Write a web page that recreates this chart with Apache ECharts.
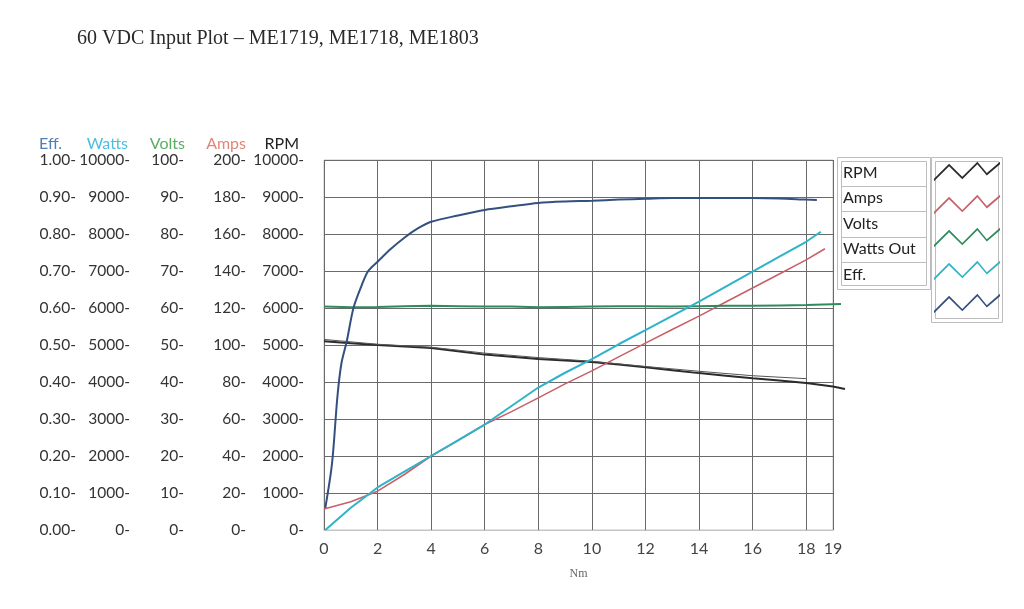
<!DOCTYPE html>
<html>
<head>
<meta charset="utf-8">
<script src="https://cdn.jsdelivr.net/npm/echarts@6/dist/echarts.min.js"></script>
<style>
html,body{margin:0;padding:0;background:#fff;}
#chart{width:1024px;height:609px;}
</style>
</head>
<body>
<div id="chart"></div>
<script>
// ---- Data (torque Nm on x) ----
const titleText = '60 VDC Input Plot \u2013 ME1719, ME1718, ME1803';
const xTickLabels = [0, 2, 4, 6, 8, 10, 12, 14, 16, 18, 19];
const legendNames = ['RPM', 'Amps', 'Volts', 'Watts Out', 'Eff.'];

const rpmX = [0, 1, 2, 3, 4, 5, 6, 7, 8, 9, 10, 11, 12, 13, 14, 15, 16, 17, 18, 19, 19.45];
const rpmY = [5100, 5050, 5000, 4960, 4920, 4830, 4740, 4680, 4620, 4580, 4540, 4470, 4400, 4320, 4240, 4170, 4100, 4040, 3970, 3880, 3810];

const rpmRefX = [0, 2, 4, 6, 8, 10, 12, 14, 16, 18];
const rpmRefY = [5150, 5020, 4940, 4780, 4660, 4560, 4420, 4290, 4170, 4090];

const ampsX = [0, 1, 2, 3, 4, 5, 6, 7, 8, 9, 10, 11, 12, 13, 14, 15, 16, 17, 18, 18.7];
const ampsY = [11.4, 15.3, 21, 30, 40, 48.4, 57, 64, 71.4, 79, 86, 93.6, 101, 108.4, 115.6, 123.2, 130.8, 138.4, 146, 152];

const voltsX = [0, 1, 2, 3, 4, 5, 6, 7, 8, 9, 10, 11, 12, 13, 14, 15, 16, 17, 18, 19.3];
const voltsY = [60.4, 60.2, 60.3, 60.5, 60.6, 60.5, 60.4, 60.4, 60.2, 60.3, 60.4, 60.5, 60.5, 60.4, 60.5, 60.6, 60.6, 60.7, 60.8, 61.1];

const wattsX = [0.05, 1, 2, 3, 4, 5, 6, 7, 8, 9, 10, 11, 12, 13, 14, 15, 16, 17, 18, 18.55];
const wattsY = [0, 600, 1150, 1580, 2000, 2420, 2850, 3350, 3850, 4250, 4620, 5020, 5400, 5790, 6170, 6580, 6980, 7390, 7790, 8060];

const effX = [0.05, 0.3, 0.5, 0.65, 0.85, 1.1, 1.4, 1.65, 2, 2.5, 3, 3.5, 4, 5, 6, 7, 8, 9, 10, 11, 12, 13, 14, 15, 16, 17, 18, 18.4];
const effY = [0.06, 0.18, 0.36, 0.45, 0.51, 0.60, 0.66, 0.70, 0.725, 0.76, 0.79, 0.815, 0.833, 0.85, 0.865, 0.875, 0.884, 0.888, 0.89, 0.893, 0.895, 0.897, 0.897, 0.897, 0.897, 0.896, 0.893, 0.892];

function pairs(xs, ys) { return xs.map((x, i) => [x, ys[i]]); }

const colors = {
  rpm: '#2b2b2b', amps: '#c8606a', volts: '#2f8a5c', watts: '#2fb3c9', eff: '#34507e'
};

const zig = 'path://M0,20 L16,4 L30,18 L46,2 L56,14 L70,2 L70,4.6 L56,16.6 L46,4.6 L30,20.6 L16,6.6 L0,22.6 Z';

const labelFont = 'Lato';
// axis ranges: [name, max, interval, offset, nameColor, namePadRight, formatter]
const axisDefs = [
  ['RPM', 10000, 1000, 0, '#222', 25, v => String(v)],
  ['Amps', 200, 20, 58, '#e0857a', 20, v => String(v)],
  ['Volts', 100, 10, 120, '#5aae63', 19, v => String(v)],
  ['Watts', 10000, 1000, 174, '#4cbde0', 22, v => String(v)],
  ['Eff.', 1, 0.1, 228, '#4f80b5', 34, v => v.toFixed(2)]
];

const visibleY = axisDefs.map((d, i) => ({
  gridIndex: 0, type: 'value', position: 'left', min: 0, max: d[1], interval: d[2], offset: d[3],
  name: d[0], nameLocation: 'end', nameGap: 6,
  nameTextStyle: { color: d[4], fontFamily: labelFont, fontSize: 16, align: 'right', padding: [0, d[5], 0, 0] },
  axisLine: { show: false }, axisTick: { show: false },
  axisLabel: { color: '#333', fontFamily: labelFont, fontSize: 15.5, margin: 20, formatter: v => d[6](v) + '-' },
  splitLine: { show: i === 0, lineStyle: { color: '#6a6a6a', width: 1 } }
}));
// hidden twins on the drawing grid (same ranges), so lines may run past the frame edge
const hiddenY = axisDefs.map(d => ({ gridIndex: 1, type: 'value', min: 0, max: d[1], show: false }));

const chart = echarts.init(document.getElementById('chart'));
chart.setOption({
  backgroundColor: '#ffffff',
  animation: false,
  title: {
    text: titleText, left: 77, top: 29, padding: 0,
    textStyle: { fontFamily: 'Liberation Serif', fontSize: 20, fontWeight: 'normal', color: '#2a2a2a' }
  },
  grid: [
    { left: 324, right: 191, top: 160, bottom: 79, show: true, borderColor: '#c4c4c4', borderWidth: 1 },
    { left: 324, right: 175, top: 160, bottom: 79, show: false }
  ],
  xAxis: [
    {
      gridIndex: 0, type: 'value', min: 0, max: 19, interval: 2,
      name: 'Nm', nameLocation: 'middle', nameGap: 38,
      nameTextStyle: { fontFamily: 'Liberation Serif', fontSize: 12, color: '#666' },
      axisLine: { show: true, lineStyle: { color: '#c4c4c4' } },
      axisTick: { show: false },
      axisLabel: { color: '#444', fontFamily: labelFont, fontSize: 16, margin: 11, customValues: xTickLabels },
      splitLine: { show: true, lineStyle: { color: '#6a6a6a', width: 1 } }
    },
    { gridIndex: 1, type: 'value', min: 0, max: 19.6, show: false }
  ],
  yAxis: visibleY.concat(hiddenY),
  legend: [
    {
      data: legendNames, orient: 'vertical', left: 837, top: 160, padding: 0, itemGap: 0,
      icon: 'rect', itemWidth: 1, itemHeight: 1, itemStyle: { color: 'rgba(0,0,0,0)', borderWidth: 0 },
      selectedMode: false,
      textStyle: { color: '#222', fontFamily: labelFont, fontSize: 16, lineHeight: 25.5 }
    },
    {
      data: legendNames, orient: 'vertical', left: 934, top: 161, padding: 0, itemGap: 12.8,
      icon: zig, itemWidth: 66, itemHeight: 21, selectedMode: false, formatter: () => '',
      itemStyle: { borderWidth: 0 }, lineStyle: { width: 0 },
      textStyle: { fontSize: 1 }
    }
  ],
  graphic: [
    { type: 'rect', shape: { x: 837.5, y: 157.5, width: 93, height: 132 }, style: { fill: 'none', stroke: '#bdbdbd', lineWidth: 1 }, silent: true },
    { type: 'rect', shape: { x: 841.5, y: 161.5, width: 85, height: 124 }, style: { fill: 'none', stroke: '#bdbdbd', lineWidth: 1 }, silent: true },
    { type: 'line', shape: { x1: 841.5, y1: 186.5, x2: 926.5, y2: 186.5 }, style: { stroke: '#bdbdbd' }, silent: true },
    { type: 'line', shape: { x1: 841.5, y1: 211.5, x2: 926.5, y2: 211.5 }, style: { stroke: '#bdbdbd' }, silent: true },
    { type: 'line', shape: { x1: 841.5, y1: 237.5, x2: 926.5, y2: 237.5 }, style: { stroke: '#bdbdbd' }, silent: true },
    { type: 'line', shape: { x1: 841.5, y1: 262.5, x2: 926.5, y2: 262.5 }, style: { stroke: '#bdbdbd' }, silent: true },
    { type: 'rect', shape: { x: 931.5, y: 157.5, width: 71, height: 165 }, style: { fill: 'none', stroke: '#bdbdbd', lineWidth: 1 }, silent: true },
    { type: 'rect', shape: { x: 935.5, y: 161.5, width: 63, height: 157 }, style: { fill: 'none', stroke: '#bdbdbd', lineWidth: 1 }, silent: true }
  ],
  series: [
    { name: 'RPM', type: 'line', xAxisIndex: 1, yAxisIndex: 5, data: pairs(rpmX, rpmY), showSymbol: false, color: colors.rpm, lineStyle: { width: 2, color: colors.rpm } },
    { name: 'RPM ref', type: 'line', xAxisIndex: 1, yAxisIndex: 5, data: pairs(rpmRefX, rpmRefY), showSymbol: false, color: '#555', lineStyle: { width: 1, color: '#555' } },
    { name: 'Amps', type: 'line', xAxisIndex: 1, yAxisIndex: 6, data: pairs(ampsX, ampsY), showSymbol: false, color: colors.amps, lineStyle: { width: 1.6, color: colors.amps } },
    { name: 'Volts', type: 'line', xAxisIndex: 1, yAxisIndex: 7, data: pairs(voltsX, voltsY), showSymbol: false, color: colors.volts, lineStyle: { width: 2, color: colors.volts } },
    { name: 'Watts Out', type: 'line', xAxisIndex: 1, yAxisIndex: 8, data: pairs(wattsX, wattsY), showSymbol: false, color: colors.watts, lineStyle: { width: 2, color: colors.watts } },
    { name: 'Eff.', type: 'line', xAxisIndex: 1, yAxisIndex: 9, data: pairs(effX, effY), smooth: 0.3, showSymbol: false, color: colors.eff, lineStyle: { width: 2, color: colors.eff } }
  ]
});
</script>
</body>
</html>
